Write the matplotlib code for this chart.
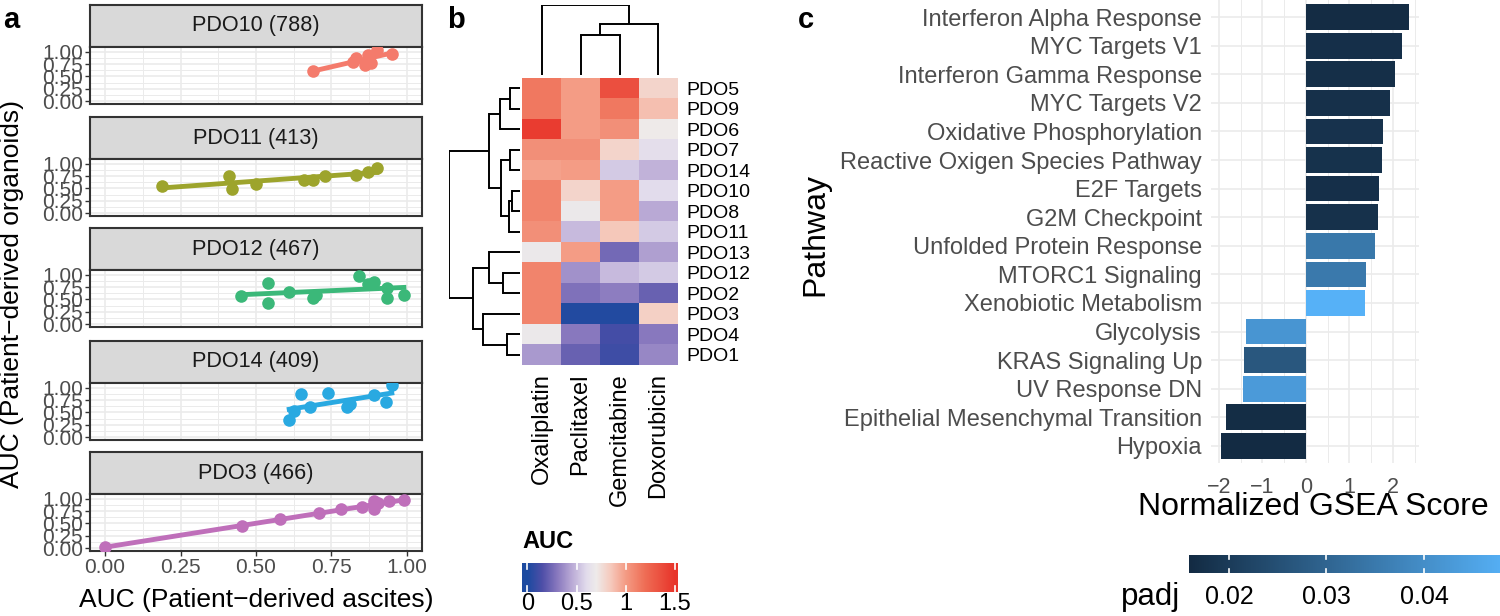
#!/usr/bin/env python3
# -*- coding: utf-8 -*-

import numpy as np
import matplotlib.pyplot as plt
from matplotlib.colors import LinearSegmentedColormap, Normalize
from matplotlib.ticker import MultipleLocator


# ---------------------------------------------------------------------
# DATA
# ---------------------------------------------------------------------

# panel a: AUC ascites vs organoids, one facet per PDO
facet_names = ["PDO10 (788)", "PDO11 (413)", "PDO12 (467)", "PDO14 (409)", "PDO3 (466)"]
facet_colors = ["#F47B6C", "#9DA42C", "#3BB879", "#29A9E1", "#BF6FBA"]

pdo10_x = [0.69, 0.82, 0.83, 0.86, 0.87, 0.88, 0.90, 0.95]
pdo10_y = [0.61, 0.80, 0.87, 0.73, 0.93, 0.77, 1.03, 0.96]
pdo11_x = [0.19, 0.41, 0.42, 0.50, 0.66, 0.69, 0.73, 0.83, 0.87, 0.90]
pdo11_y = [0.56, 0.75, 0.49, 0.60, 0.68, 0.67, 0.75, 0.78, 0.84, 0.91]
pdo12_x = [0.45, 0.54, 0.54, 0.61, 0.69, 0.70, 0.84, 0.87, 0.89, 0.935, 0.935, 0.99]
pdo12_y = [0.57, 0.83, 0.43, 0.66, 0.54, 0.60, 0.97, 0.81, 0.86, 0.74, 0.54, 0.60]
pdo14_x = [0.61, 0.625, 0.65, 0.68, 0.74, 0.80, 0.81, 0.89, 0.93, 0.95]
pdo14_y = [0.35, 0.54, 0.87, 0.62, 0.90, 0.61, 0.68, 0.85, 0.71, 1.06]
pdo3_x = [0.0, 0.455, 0.58, 0.71, 0.78, 0.85, 0.89, 0.89, 0.905, 0.94, 0.99]
pdo3_y = [0.02, 0.45, 0.59, 0.71, 0.79, 0.83, 0.95, 0.79, 0.91, 0.95, 0.98]

auc_ticks = [0.0, 0.25, 0.5, 0.75, 1.0]
auc_labels = ["0.00", "0.25", "0.50", "0.75", "1.00"]

# panel b: heatmap AUC (rows in dendrogram order)
heat_rows = ["PDO5", "PDO9", "PDO6", "PDO7", "PDO14", "PDO10", "PDO8",
             "PDO11", "PDO13", "PDO12", "PDO2", "PDO3", "PDO4", "PDO1"]
heat_cols = ["Oxaliplatin", "Paclitaxel", "Gemcitabine", "Doxorubicin"]
heat_auc = [
    [1.15, 1.00, 1.35, 0.80],
    [1.15, 1.00, 1.15, 0.88],
    [1.45, 1.00, 1.05, 0.70],
    [1.05, 1.05, 0.80, 0.62],
    [0.98, 1.00, 0.55, 0.48],
    [1.10, 0.80, 1.00, 0.60],
    [1.10, 0.68, 1.00, 0.45],
    [1.05, 0.50, 0.85, 0.55],
    [0.68, 1.00, 0.25, 0.42],
    [1.10, 0.38, 0.50, 0.55],
    [1.10, 0.28, 0.32, 0.22],
    [1.10, 0.02, 0.02, 0.82],
    [0.68, 0.30, 0.12, 0.30],
    [0.40, 0.22, 0.10, 0.35],
]
# merges (left, right, height); ids >= n are earlier merges
row_merges = [(0, 1, 10), (14, 2, 20), (3, 4, 10), (5, 6, 8), (17, 7, 11),
              (16, 18, 19.5), (15, 19, 31), (9, 10, 17.5), (8, 21, 31),
              (12, 13, 13), (11, 23, 37), (22, 24, 47), (20, 25, 71)]
col_merges = [(1, 2, 40), (4, 3, 51), (0, 5, 70)]
auc_legend_ticks = [0, 0.5, 1, 1.5]
auc_legend_labels = ["0", "0.5", "1", "1.5"]

# panel c: GSEA
pathways = ["Interferon Alpha Response", "MYC Targets V1", "Interferon Gamma Response",
            "MYC Targets V2", "Oxidative Phosphorylation", "Reactive Oxigen Species Pathway",
            "E2F Targets", "G2M Checkpoint", "Unfolded Protein Response", "MTORC1 Signaling",
            "Xenobiotic Metabolism", "Glycolysis", "KRAS Signaling Up", "UV Response DN",
            "Epithelial Mesenchymal Transition", "Hypoxia"]
nes = [2.36, 2.22, 2.05, 1.94, 1.77, 1.76, 1.67, 1.65, 1.58, 1.38, 1.35,
       -1.38, -1.43, -1.45, -1.83, -1.95]
padj = [0.0162, 0.0170, 0.0168, 0.0172, 0.0178, 0.0176, 0.0170, 0.0175, 0.0345, 0.0350,
        0.0485, 0.0417, 0.0267, 0.0430, 0.0163, 0.0159]
nes_ticks = [-2, -1, 0, 1, 2]
nes_labels = ["\u22122", "\u22121", "0", "1", "2"]
padj_ticks = [0.02, 0.03, 0.04]
padj_labels = ["0.02", "0.03", "0.04"]


# ---------------------------------------------------------------------
# HELPERS
# ---------------------------------------------------------------------

plt.rcParams['font.family'] = ['Liberation Sans', 'DejaVu Sans']

W, H = 1500, 616
GRID = "#EBEBEB"
DARK = "#333333"
TXT = "#4D4D4D"


def px_box(x0, y0, x1, y1):
    # pixel box (origin top-left) -> figure fraction rect
    return [x0 / W, 1 - y1 / H, (x1 - x0) / W, (y1 - y0) / H]


def draw_dendro(ax, merges, n, vertical_leaves):
    pos = {i: float(i) for i in range(n)}
    hgt = {i: 0.0 for i in range(n)}
    for k, (a, b, h) in enumerate(merges):
        for c in (a, b):
            if vertical_leaves:
                ax.plot([pos[c], pos[c]], [hgt[c], h], color="black", lw=1.4, solid_capstyle="butt")
            else:
                ax.plot([hgt[c], h], [pos[c], pos[c]], color="black", lw=1.4, solid_capstyle="butt")
        if vertical_leaves:
            ax.plot([pos[a], pos[b]], [h, h], color="black", lw=1.4, solid_capstyle="projecting")
        else:
            ax.plot([h, h], [pos[a], pos[b]], color="black", lw=1.4, solid_capstyle="projecting")
        pos[n + k] = (pos[a] + pos[b]) / 2
        hgt[n + k] = h


fig = plt.figure(figsize=(W / 100, H / 100), dpi=100)

# ---------------------------------------------------------------------
# PANEL a
# ---------------------------------------------------------------------

facet_data = [(pdo10_x, pdo10_y), (pdo11_x, pdo11_y), (pdo12_x, pdo12_y),
              (pdo14_x, pdo14_y), (pdo3_x, pdo3_y)]
facet_top = [5, 117, 228, 341, 452]
strip_h, plot_h = 42, 57

for i, name in enumerate(facet_names):
    top = facet_top[i]
    sax = fig.add_axes(px_box(90, top, 422, top + strip_h))
    sax.set_facecolor("#D9D9D9")
    sax.set_xticks([])
    sax.set_yticks([])
    for s in sax.spines.values():
        s.set_color(DARK)
        s.set_linewidth(1.5)
    sax.text(0.5, 0.5, name, transform=sax.transAxes, ha="center", va="center",
             fontsize=15.6, color="#1A1A1A")

    ax = fig.add_axes(px_box(90, top + strip_h, 422, top + strip_h + plot_h))
    x, y = np.array(facet_data[i][0]), np.array(facet_data[i][1])
    k, b = np.polyfit(x, y, 1)
    xs = np.array([x.min(), x.max()])
    ax.plot(xs, k * xs + b, color=facet_colors[i], lw=3.5, zorder=2)
    ax.scatter(x, y, s=82, color=facet_colors[i], linewidths=0, zorder=3)

    ax.set_xlim(-0.05, 1.05)
    ax.set_ylim(-0.06, 1.10)
    ax.set_xticks(auc_ticks, auc_labels)
    ax.set_yticks(auc_ticks, auc_labels)
    ax.xaxis.set_minor_locator(MultipleLocator(0.125))
    ax.yaxis.set_minor_locator(MultipleLocator(0.125))
    ax.grid(True, which="major", color=GRID, lw=1.2)
    ax.grid(True, which="minor", color=GRID, lw=0.7)
    ax.set_axisbelow(True)
    ax.tick_params(which="minor", length=0)
    ax.tick_params(which="major", length=3.5, width=1, color=DARK,
                   labelsize=15, labelcolor=TXT, pad=1.5)
    if i < len(facet_names) - 1:
        ax.tick_params(axis="x", length=0, labelbottom=False)
    for s in ax.spines.values():
        s.set_color(DARK)
        s.set_linewidth(1.5)

fig.text(256 / W, 1 - 600 / H, "AUC (Patient\u2212derived ascites)", ha="center", va="center",
         fontsize=19)
fig.text(12 / W, 1 - 294 / H, "AUC (Patient\u2212derived organoids)", ha="center", va="center",
         rotation=90, fontsize=19)

# ---------------------------------------------------------------------
# PANEL b
# ---------------------------------------------------------------------

auc_stops = [(0.0, "#1C4AA0"), (0.15, "#4F4FA8"), (0.3, "#8878BE"), (0.45, "#BAAAD6"),
             (0.6, "#E2DCEC"), (0.7, "#EEEBEA"), (0.85, "#F6C9BC"), (1.0, "#F49C85"),
             (1.2, "#EF6D55"), (1.5, "#E8342A")]
auc_cmap = LinearSegmentedColormap.from_list("auc", [(v / 1.5, c) for v, c in auc_stops])
auc_norm = Normalize(0, 1.5)

hax = fig.add_axes(px_box(522, 78, 678, 365))
hax.imshow(np.array(heat_auc), cmap=auc_cmap, norm=auc_norm, aspect="auto",
           interpolation="nearest")
hax.set_xticks(range(len(heat_cols)), heat_cols, rotation=90, va="top")
hax.set_yticks(range(len(heat_rows)), heat_rows)
hax.yaxis.tick_right()
hax.tick_params(length=0)
hax.tick_params(axis="x", pad=6, labelsize=17)
hax.tick_params(axis="y", pad=6, labelsize=14)
for s in hax.spines.values():
    s.set_visible(False)

rax = fig.add_axes(px_box(449, 78, 520, 365))
draw_dendro(rax, row_merges, len(heat_rows), vertical_leaves=False)
rax.set_xlim(71, 0)
rax.set_ylim(len(heat_rows) - 0.5, -0.5)
rax.axis("off")

cax = fig.add_axes(px_box(522, 5, 678, 75))
draw_dendro(cax, col_merges, len(heat_cols), vertical_leaves=True)
cax.set_xlim(-0.5, len(heat_cols) - 0.5)
cax.set_ylim(0, 70)
cax.axis("off")

# AUC legend
lax = fig.add_axes(px_box(522, 563, 678, 592))
lo, hi = -0.054, 1.53
grad = np.linspace(lo, hi, 400)[None, :]
lax.imshow(grad, cmap=auc_cmap, norm=auc_norm, aspect="auto", extent=[lo, hi, 0, 1])
lax.set_xlim(lo, hi)
lax.set_ylim(0, 1)
for t in auc_legend_ticks:
    lax.plot([t, t], [0, 0.22], color="white", lw=1.2)
    lax.plot([t, t], [0.78, 1], color="white", lw=1.2)
lax.set_yticks([])
lax.set_xticks(auc_legend_ticks, auc_legend_labels)
lax.tick_params(length=0, labelsize=17, pad=1)
for s in lax.spines.values():
    s.set_visible(False)
fig.text(522 / W, 1 - 541 / H, "AUC", ha="left", va="center", fontsize=17, fontweight="bold")

# ---------------------------------------------------------------------
# PANEL c
# ---------------------------------------------------------------------

padj_cmap = LinearSegmentedColormap.from_list("padj", ["#132B43", "#56B1F7"])
padj_norm = Normalize(min(padj), max(padj))

gax = fig.add_axes(px_box(1211, 0, 1419, 463))
ypos = np.arange(len(pathways))
gax.barh(ypos, nes, height=0.9, color=padj_cmap(padj_norm(padj)), zorder=2)
gax.set_xlim(-2.18, 2.60)
gax.set_ylim(len(pathways) - 0.4, -0.6)
gax.set_yticks(ypos, pathways)
gax.set_xticks(nes_ticks, nes_labels)
gax.xaxis.set_minor_locator(MultipleLocator(0.5))
gax.grid(True, which="major", color=GRID, lw=1.2)
gax.grid(True, axis="x", which="minor", color=GRID, lw=0.7)
gax.set_axisbelow(True)
gax.tick_params(which="both", length=0, labelcolor=TXT)
gax.tick_params(axis="y", pad=6.5, labelsize=17)
gax.tick_params(axis="x", pad=10, labelsize=15.5)
for s in gax.spines.values():
    s.set_visible(False)

fig.text(1313 / W, 1 - 507 / H, "Normalized GSEA Score", ha="center", va="center", fontsize=23)
fig.text(815 / W, 1 - 234 / H, "Pathway", ha="center", va="center", rotation=90, fontsize=23)

# padj legend (bar runs past the right edge, as in the source)
pax = fig.add_axes(px_box(1189, 555, 1189 + (max(padj) - min(padj)) * 9750, 573))
pgrad = np.linspace(min(padj), max(padj), 400)[None, :]
pax.imshow(pgrad, cmap=padj_cmap, norm=padj_norm, aspect="auto",
           extent=[min(padj), max(padj), 0, 1])
pax.set_xlim(min(padj), max(padj))
pax.set_ylim(0, 1)
for t in padj_ticks:
    pax.plot([t, t], [0, 0.2], color="white", lw=1.2)
    pax.plot([t, t], [0.8, 1], color="white", lw=1.2)
pax.set_yticks([])
pax.set_xticks(padj_ticks, padj_labels)
pax.tick_params(length=0, labelsize=18, pad=9)
for s in pax.spines.values():
    s.set_visible(False)
fig.text(1121 / W, 1 - 597 / H, "padj", ha="left", va="center", fontsize=22.5)

# panel letters
for lx, ly, letter in [(3, 20, "a"), (447, 20, "b"), (798, 20, "c")]:
    fig.text(lx / W, 1 - ly / H, letter, ha="left", va="center", fontsize=21, fontweight="bold")

fig.savefig("out.png", dpi=100, facecolor="white")
